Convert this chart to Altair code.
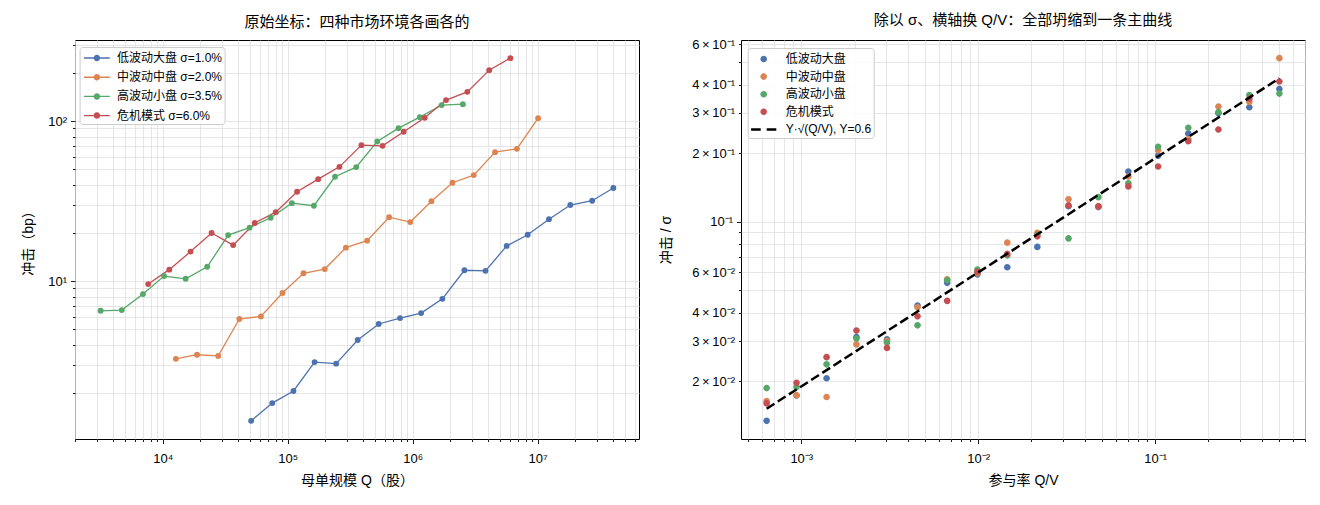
import math
import altair as alt
import pandas as pd

TXT = "Liberation Sans, Noto Sans CJK SC"
NUM = "Liberation Sans"

# ---- market regimes ----
regimes = ["低波动大盘", "中波动中盘", "高波动小盘", "危机模式"]
sigma_pct = [1.0, 2.0, 3.5, 6.0]
daily_volume = [8.0e7, 2.0e7, 5.0e6, 1.2e7]
palette = ["#4C72B0", "#DD8452", "#55A868", "#C44E52"]

# participation rate Q/V of each parent order
participation = [6.37e-4, 9.4e-4, 1.39e-3, 2.05e-3, 3.05e-3, 4.54e-3, 6.68e-3,
                 9.9e-3, 1.46e-2, 2.16e-2, 3.24e-2, 4.78e-2, 7.06e-2, 0.104,
                 0.154, 0.228, 0.341, 0.504]

# measured impact in bp
impact_low = [1.34, 1.73, 2.06, 3.12, 3.05, 4.29, 5.40, 5.88, 6.32, 7.76,
              11.7, 11.6, 16.6, 19.5, 24.4, 29.9, 31.8, 38.2]
impact_mid = [3.27, 3.47, 3.41, 5.80, 6.02, 8.43, 11.2, 11.9, 16.2, 17.9,
              25.1, 23.4, 31.6, 41.2, 46.0, 64.0, 67.1, 104.4]
impact_high = [6.53, 6.60, 8.30, 10.76, 10.35, 12.3, 19.4, 21.6, 24.9, 30.7,
               29.6, 44.9, 51.6, 74.6, 90.4, 105.9, 125.9, 127.7]
impact_crisis = [9.59, 11.8, 15.3, 20.0, 16.8, 23.1, 27.0, 36.2, 43.4, 51.8,
                 70.8, 70.1, 85.8, 104.9, 135.3, 152.4, 208.2, 247.5]
impacts = [impact_low, impact_mid, impact_high, impact_crisis]

Y_COEF = 0.6
fit_label = "Y·√(Q/V), Y=0.6"

rows = []
for name, sig, vol, imp in zip(regimes, sigma_pct, daily_volume, impacts):
    series = f"{name} σ={sig:.1f}%"
    for q, v in zip(participation, imp):
        rows.append({"regime": name, "series": series, "Q": q * vol, "q": q,
                     "impact": v, "norm": v * 1e-4 / (sig / 100.0)})
df = pd.DataFrame(rows)
fit_df = pd.DataFrame({"q": participation,
                       "fit": [Y_COEF * math.sqrt(q) for q in participation]})
series_names = list(dict.fromkeys(df["series"]))


# ---- helpers for log axes ----
def log_domain(vals, margin=0.05):
    lo, hi = math.log10(min(vals)), math.log10(max(vals))
    pad = (hi - lo) * margin
    return [10 ** (lo - pad), 10 ** (hi + pad)]


def decade_ticks(domain):
    lo, hi = domain
    major, minor = [], []
    for n in range(math.floor(math.log10(lo)), math.ceil(math.log10(hi)) + 1):
        for k in range(1, 10):
            v = k * 10.0 ** n
            if lo <= v <= hi:
                (major if k == 1 else minor).append(v)
    return major, minor


SUP = str.maketrans("0123456789-", "⁰¹²³⁴⁵⁶⁷⁸⁹⁻")


def sci(v):
    n = math.floor(math.log10(v) + 1e-9)
    k = round(v / 10 ** n)
    base = "10" + str(n).translate(SUP)
    return base if k == 1 else f"{k}\u2009×\u2009{base}"


def label_expr(values, labels):
    expr = "''"
    for v, s in reversed(list(zip(values, labels))):
        expr = f"abs(datum.value - {v!r}) <= {abs(v) * 1e-6!r} ? '{s}' : ({expr})"
    return expr


W, H = 564, 399
GAP = 102
MAJOR_TICK, MINOR_TICK = 4.5, 2.5

# legend glyphs (custom symbol paths, unit = sqrt(size)/2 px)
SYM = 324


def circle_path(r):
    return f"M{-r},0A{r},{r} 0 1,1 {r},0A{r},{r} 0 1,1 {-r},0Z"


def rect_path(x0, x1, h):
    return f"M{x0},{-h}H{x1}V{h}H{x0}Z"


line_marker = rect_path(-1.43, 1.43, 0.075) + circle_path(0.36)
dot = circle_path(0.367)
dash = rect_path(-1.4, -0.33, 0.14) + rect_path(0.33, 1.4, 0.14)

legend_box = dict(fillColor="rgba(255,255,255,0.85)", strokeColor="#cccccc",
                  cornerRadius=3, labelFont=TXT, labelFontSize=12,
                  labelColor="black", symbolSize=SYM, symbolStrokeWidth=0,
                  symbolOpacity=1, padding=2, title=None, orient="none")


def minor_axis(orient, values, labels=None):
    kw = dict(orient=orient, values=values, tickSize=MINOR_TICK, title=None,
              grid=True)
    if labels is None:
        kw["labels"] = False
    else:
        kw["labelExpr"] = label_expr(*labels)
    return alt.Axis(**kw)


def major_axis(orient, values, title, title_x, title_y):
    return alt.Axis(orient=orient, values=values, grid=True,
                    labelExpr=label_expr(values, [sci(v) for v in values]),
                    tickSize=MAJOR_TICK, title=title, titleX=title_x,
                    titleY=title_y, titleBaseline="middle")


# ================= left panel: raw coordinates =================
lx_dom = log_domain(df["Q"])
ly_dom = log_domain(df["impact"])
lx_major, lx_minor = decade_ticks(lx_dom)
ly_major, ly_minor = decade_ticks(ly_dom)

lx_scale = alt.Scale(type="log", domain=lx_dom, nice=False)
ly_scale = alt.Scale(type="log", domain=ly_dom, nice=False)
l_color = alt.Scale(domain=series_names, range=palette)

left_lines = alt.Chart(df).mark_line(strokeWidth=1.3).encode(
    x=alt.X("Q:Q", scale=lx_scale,
            axis=major_axis("bottom", lx_major, "母单规模 Q（股）", W / 2, 41)),
    y=alt.Y("impact:Q", scale=ly_scale,
            axis=major_axis("left", ly_major, "冲击（bp）", -47, H / 2)),
    stroke=alt.Stroke("series:N", scale=l_color, legend=None),
    order="Q:Q",
)

left_points = alt.Chart(df).mark_circle(size=34, opacity=1).encode(
    x=alt.X("Q:Q", scale=lx_scale, axis=minor_axis("bottom", lx_minor)),
    y=alt.Y("impact:Q", scale=ly_scale, axis=minor_axis("left", ly_minor)),
    color=alt.Color("series:N", scale=l_color, legend=alt.Legend(
        legendX=4.6, legendY=7, symbolType=line_marker, rowPadding=4.2,
        symbolOffset=6.3, labelOffset=11, **legend_box)),
)

left = alt.layer(left_lines, left_points).resolve_axis(
    x="independent", y="independent"
).resolve_scale(stroke="independent").properties(
    width=W, height=H, title="原始坐标：四种市场环境各画各的")

# ================= right panel: collapsed =================
rx_dom = log_domain(participation)
ry_dom = log_domain(list(df["norm"]) + list(fit_df["fit"]))
rx_major, rx_minor = decade_ticks(rx_dom)
ry_major, ry_minor = decade_ticks(ry_dom)
ry_labeled = [v for v in ry_minor
              if round(v / 10 ** math.floor(math.log10(v) + 1e-9)) in (2, 3, 4, 6)]

rx_scale = alt.Scale(type="log", domain=rx_dom, nice=False)
ry_scale = alt.Scale(type="log", domain=ry_dom, nice=False)
r_domain = regimes + [fit_label]
r_color = alt.Scale(domain=r_domain, range=palette + ["#000000"])
r_shape = alt.Scale(domain=r_domain, range=[dot] * 4 + [dash])
r_legend = alt.Legend(legendX=6.7, legendY=8, rowPadding=2.6,
                      symbolOffset=5, labelOffset=13, **legend_box)

right_points = alt.Chart(df).mark_point(
    filled=True, size=SYM, opacity=1, strokeWidth=0
).encode(
    x=alt.X("q:Q", scale=rx_scale,
            axis=major_axis("bottom", rx_major, "参与率 Q/V", W / 2, 41)),
    y=alt.Y("norm:Q", scale=ry_scale,
            axis=major_axis("left", ry_major, "冲击 / σ", -75, H / 2)),
    color=alt.Color("regime:N", scale=r_color, legend=r_legend),
    shape=alt.Shape("regime:N", scale=r_shape, legend=r_legend),
)

fit_line = alt.Chart(fit_df).mark_line(
    color="black", strokeWidth=2.5, strokeDash=[9.25, 4]
).encode(
    x=alt.X("q:Q", scale=rx_scale, axis=minor_axis("bottom", rx_minor)),
    y=alt.Y("fit:Q", scale=ry_scale,
            axis=minor_axis("left", ry_minor,
                            (ry_labeled, [sci(v) for v in ry_labeled]))),
)

right = alt.layer(right_points, fit_line).resolve_axis(
    x="independent", y="independent"
).properties(width=W, height=H,
             title="除以 σ、横轴换 Q/V：全部坍缩到一条主曲线")

chart = alt.hconcat(left, right, spacing=GAP, bounds="flush").resolve_scale(
    color="independent", shape="independent", stroke="independent"
).properties(
    padding={"left": 20, "top": 12, "right": 10, "bottom": 10},
    background="white",
).configure_view(
    stroke="black", strokeWidth=1
).configure_axis(
    domain=False, grid=True, gridColor="#e0e0e0", gridWidth=0.8,
    tickColor="black", tickWidth=0.9, labelFont=NUM, labelFontSize=13,
    labelColor="black", labelPadding=4, labelOverlap=False, labelFlush=False,
    titleFont=TXT, titleFontSize=14, titleFontWeight="normal", titleColor="black",
).configure_axisX(
    labelPadding=8.5
).configure_title(
    font=TXT, fontSize=15, fontWeight="normal", color="black",
    anchor="middle", offset=10,
)

chart.save("out.html", embed_options={"renderer": "svg", "actions": False})
